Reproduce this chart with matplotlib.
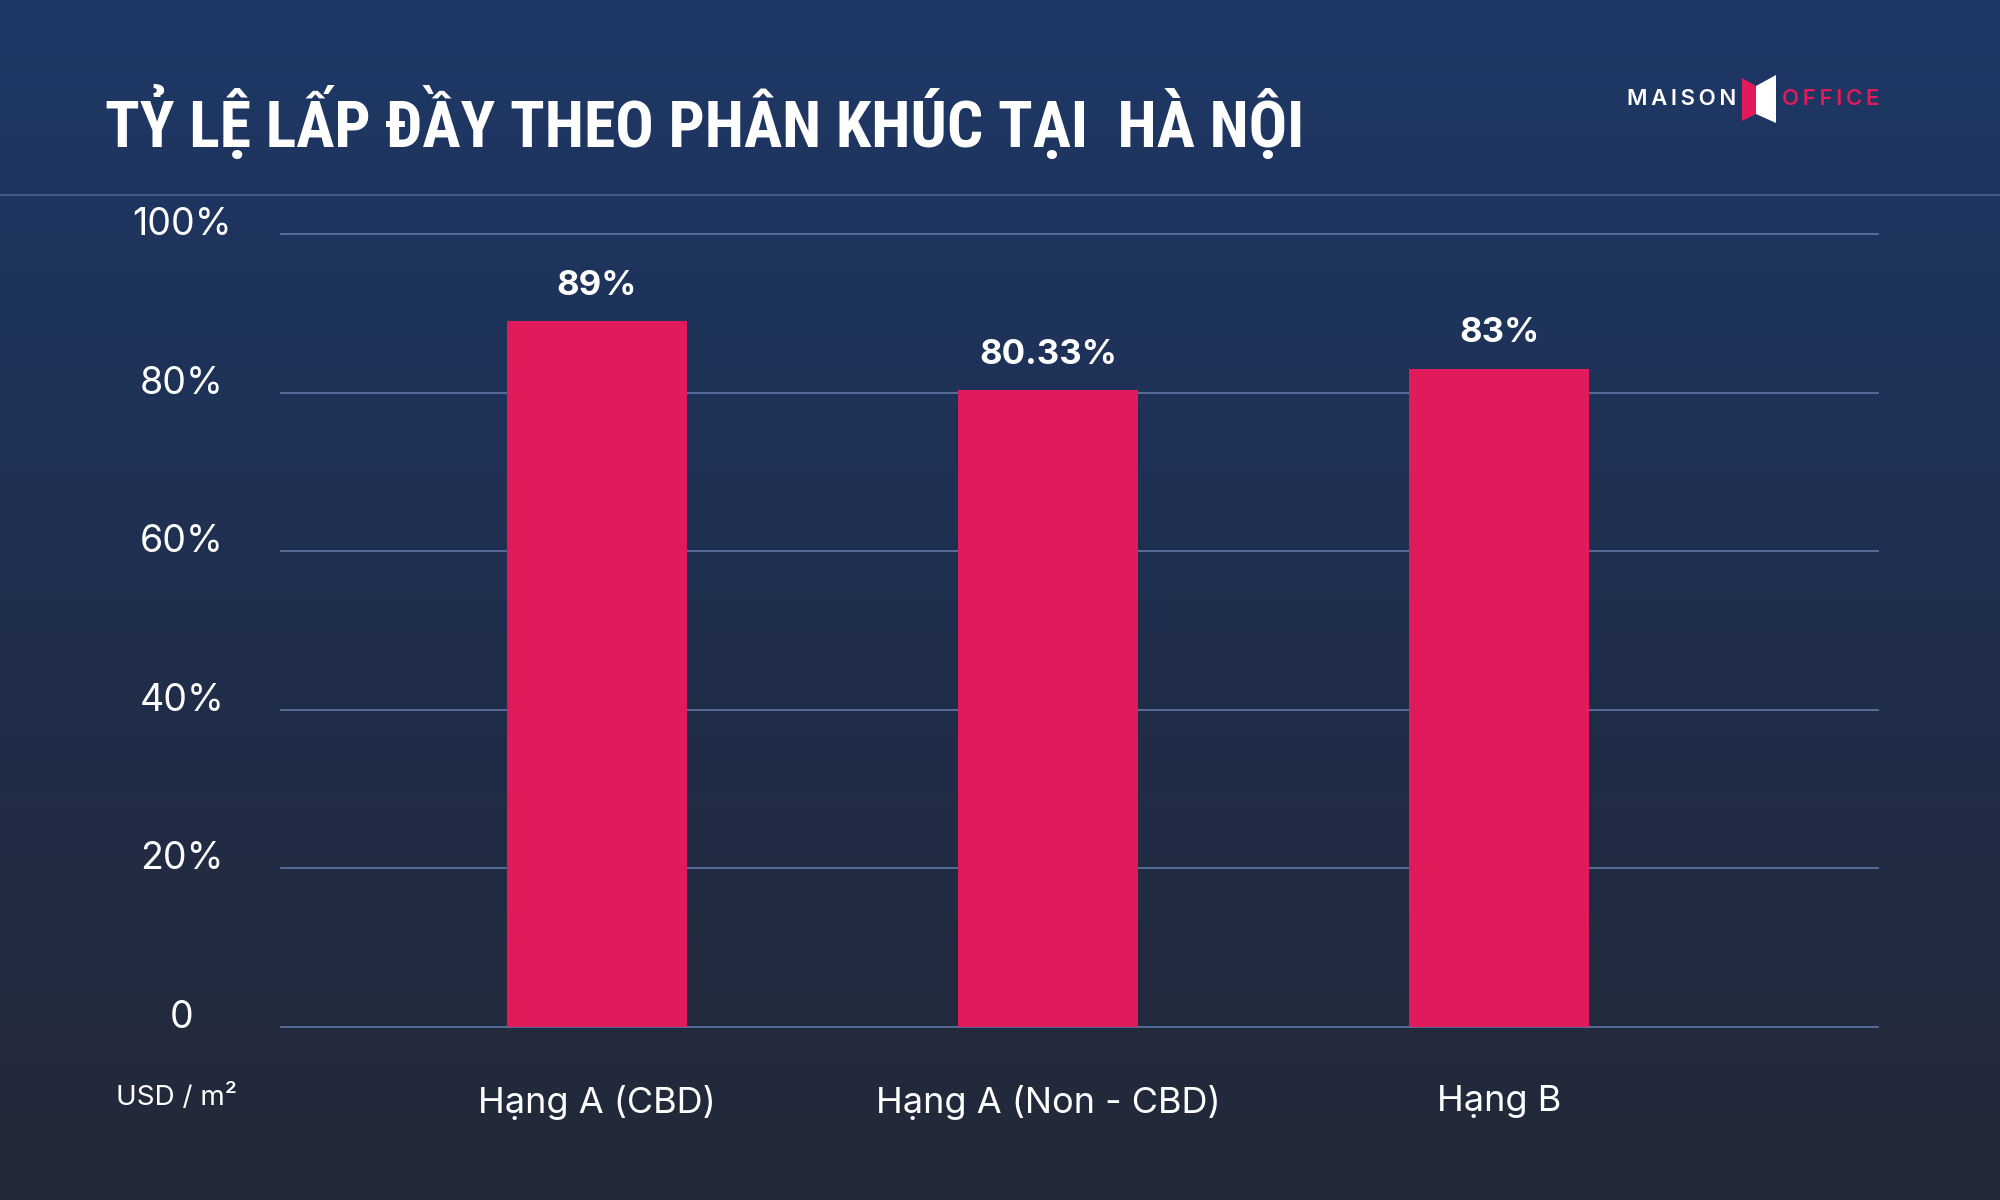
import matplotlib.pyplot as plt
from matplotlib import font_manager
from matplotlib.patches import Polygon
from matplotlib.colors import LinearSegmentedColormap
from matplotlib.transforms import ScaledTranslation, blended_transform_factory
import numpy as np

# data
categories = ['Hạng A (CBD)', 'Hạng A (Non - CBD)', 'Hạng B']
occupancy  = [89, 80.33, 83]
bar_labels = ['89%', '80.33%', '83%']
y_ticks    = [0, 20, 40, 60, 80, 100]
y_tick_lbl = ['0', '20%', '40%', '60%', '80%', '100%']
title      = 'TỶ LỆ LẤP ĐẦY THEO PHÂN KHÚC TẠI  HÀ NỘI'
unit_label = 'USD / m²'

BAR   = '#E11A5B'
GRID  = '#5A71A0'
WHITE = '#FFFFFF'

plt.rcParams['font.family'] = ['Inter', 'DejaVu Sans']

# a narrow face for the title, if one is installed
fonts = font_manager.fontManager.ttflist
names = {f.name for f in fonts}
title_font, title_size, title_stretch = 'Inter', 38.5, 'normal'
for cand in ['Liberation Sans Narrow', 'Roboto Condensed', 'DejaVu Sans Condensed']:
    if cand in names:
        title_font, title_size = cand, 46
        break
else:
    if any(f.name == 'DejaVu Sans' and f.stretch == 'condensed' for f in fonts):
        title_font, title_size, title_stretch = 'DejaVu Sans', 45, 'condensed'

fig = plt.figure(figsize=(20, 12), dpi=100)

# background gradient
bg = fig.add_axes([0, 0, 1, 1], zorder=-10)
cmap = LinearSegmentedColormap.from_list('bg', ['#1E3866', '#1F3258', '#212C45', '#232937'])
bg.imshow(np.linspace(0, 1, 256).reshape(-1, 1), aspect='auto', cmap=cmap,
          extent=[0, 1, 0, 1])
bg.set_axis_off()
bg.set_xlim(0, 1); bg.set_ylim(0, 1)
bg.axhline(1 - 195/1200, color='#4B6290', lw=1.2)

# title
fig.text(105/2000, 1 - 147/1200, title, color=WHITE, fontsize=title_size, fontweight='heavy',
         family=[title_font, 'Inter', 'DejaVu Sans'], fontstretch=title_stretch,
         va='baseline', ha='left')

# logo
fig.text(1627/2000, 1 - 99/1200, '\u2009'.join('MAISON'), color=WHITE, fontsize=16,
         fontweight='semibold', va='center', ha='left')
fig.text(1879/2000, 1 - 99/1200, '\u2009'.join('OFFICE'), color=BAR, fontsize=16,
         fontweight='semibold', va='center', ha='right')
px = lambda x, y: (x/2000, 1 - y/1200)
fig.patches.append(Polygon([px(1742, 78), px(1756, 86), px(1756, 114), px(1742, 121)],
                           closed=True, facecolor=BAR, edgecolor='none',
                           transform=fig.transFigure))
fig.patches.append(Polygon([px(1756, 86), px(1776, 75), px(1776, 123), px(1756, 114)],
                           closed=True, facecolor=WHITE, edgecolor='none',
                           transform=fig.transFigure))

# chart
ax = fig.add_axes([281/2000, 1 - 1027/1200, (1878 - 281)/2000, (1027 - 234)/1200])
ax.set_facecolor('none')
x = np.arange(len(categories))
bars = ax.bar(x, occupancy, width=0.4, color=BAR, zorder=3)
ax.set_xlim(-0.70, 2.84)
ax.set_ylim(0, 100)

for s in ax.spines.values():
    s.set_visible(False)
for t in y_ticks:
    ax.axhline(t, color=GRID, lw=1.3, zorder=1, clip_on=False)

ax.set_yticks([])
trans = blended_transform_factory(ax.transAxes, ax.transData) + \
    ScaledTranslation(0, 9/100, fig.dpi_scale_trans)
for t, lbl in zip(y_ticks, y_tick_lbl):
    ax.text(-99/1597, t, lbl, transform=trans, ha='center', va='center',
            color=WHITE, fontsize=27)

ax.set_xticks(x)
ax.set_xticklabels(categories, color=WHITE, fontsize=26)
ax.tick_params(axis='x', length=0, pad=42)

for rect, lbl in zip(bars, bar_labels):
    ax.annotate(lbl, (rect.get_x() + rect.get_width()/2, rect.get_height()),
                xytext=(0, 19), textcoords='offset points', ha='center', va='baseline',
                color=WHITE, fontsize=25, fontweight='bold')

fig.text(116/2000, 1 - 1098/1200, unit_label, color=WHITE, fontsize=20,
         ha='left', va='center')

fig.savefig('out.png', dpi=100)
